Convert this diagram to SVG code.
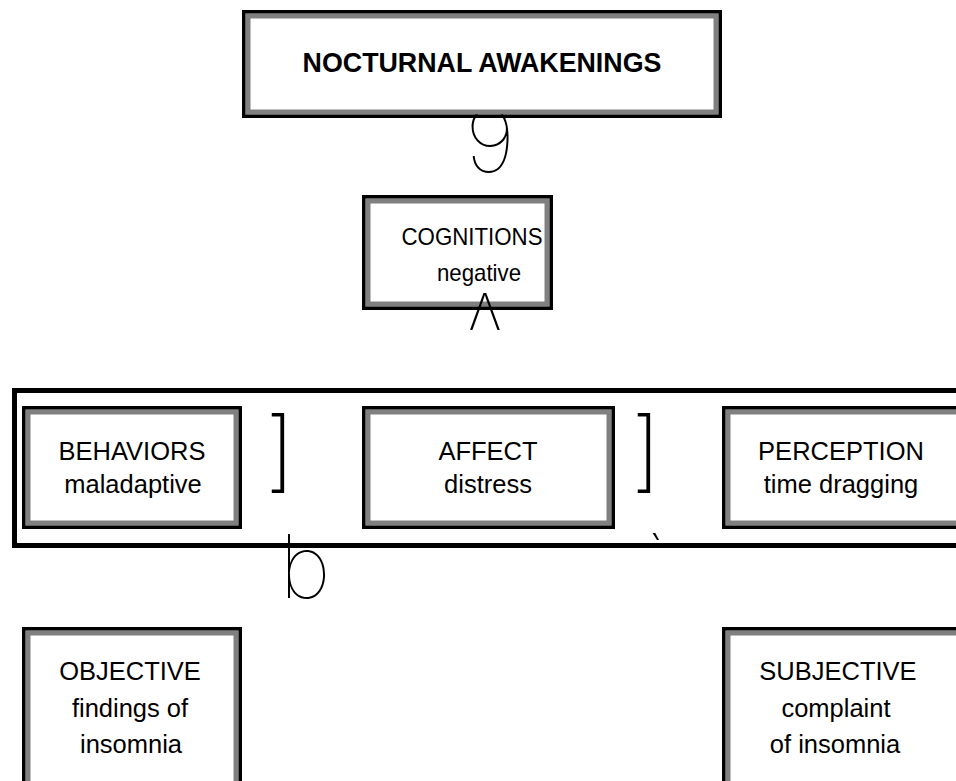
<svg xmlns="http://www.w3.org/2000/svg" width="956" height="781" viewBox="0 0 956 781">
<style>
.outer{fill:none;stroke:#000;stroke-width:3.5}
.inner{fill:#fff;stroke:#808080;stroke-width:5}
.t{font-family:"Liberation Sans",Arial,sans-serif;font-size:25.5px;fill:#000;text-anchor:middle}
.b{font-weight:bold;font-size:26.8px}
.s{font-size:24px}
.g{font-family:Inter,Lato,"DejaVu Sans",sans-serif;font-weight:200;fill:#000;text-anchor:middle}
.w1{font-weight:100}
.w3{font-weight:250}
.frame{fill:none;stroke:#000;stroke-width:5}
</style>
<rect width="956" height="781" fill="#fff"/>
<g id="connectors-under">
<text class="g w1" x="490" y="172" style="font-size:88px">9</text>
</g>
<g id="group-frame"><rect class="frame" x="14.5" y="390.5" width="960" height="155"/></g>
<g id="nocturnal">
<rect class="inner" x="248" y="16" width="468" height="96"/>
<rect class="outer" x="243.75" y="11.75" width="476.5" height="104.5"/>
<text class="t b" x="482" y="72">NOCTURNAL AWAKENINGS</text>
</g>
<g id="cognitions">
<rect class="inner" x="368" y="201" width="179" height="103"/>
<rect class="outer" x="363.75" y="196.75" width="187.5" height="111.5"/>
<text class="t s" x="472" y="245" textLength="141" lengthAdjust="spacingAndGlyphs">COGNITIONS</text>
<text class="t s" x="479" y="281" textLength="84" lengthAdjust="spacingAndGlyphs">negative</text>
</g>
<g id="behaviors">
<rect class="inner" x="28" y="412" width="208" height="111"/>
<rect class="outer" x="23.75" y="407.75" width="216.5" height="119.5"/>
<text class="t" x="132" y="460">BEHAVIORS</text>
<text class="t" x="133" y="493">maladaptive</text>
</g>
<g id="affect">
<rect class="inner" x="368" y="412" width="241" height="111"/>
<rect class="outer" x="363.75" y="407.75" width="249.5" height="119.5"/>
<text class="t" x="488" y="460">AFFECT</text>
<text class="t" x="488" y="493">distress</text>
</g>
<g id="perception">
<rect class="inner" x="728" y="412" width="232" height="111"/>
<rect class="outer" x="723.75" y="407.75" width="240" height="119.5"/>
<text class="t" x="841" y="460">PERCEPTION</text>
<text class="t" x="841" y="493">time dragging</text>
</g>
<g id="objective">
<rect class="inner" x="28" y="633" width="208" height="160"/>
<rect class="outer" x="23.75" y="628.75" width="216.5" height="170"/>
<text class="t" x="130" y="680">OBJECTIVE</text>
<text class="t" x="130" y="717">findings of</text>
<text class="t" x="131" y="753">insomnia</text>
</g>
<g id="subjective">
<rect class="inner" x="728" y="633" width="232" height="160"/>
<rect class="outer" x="723.75" y="628.75" width="240" height="170"/>
<text class="t" x="838" y="680">SUBJECTIVE</text>
<text class="t" x="836" y="717">complaint</text>
<text class="t" x="835" y="753">of insomnia</text>
</g>
<g id="connectors">
<text class="g" x="485" y="330" style="font-size:50px">Λ</text>
<text class="g w3" x="280" y="481" style="font-size:88px">]</text>
<text class="g w3" x="646" y="481" style="font-size:88px">]</text>
<text class="g w1" x="305" y="598" style="font-size:88px">b</text>
<text class="g" x="656" y="572" style="font-size:52px">`</text>
</g>
</svg>
